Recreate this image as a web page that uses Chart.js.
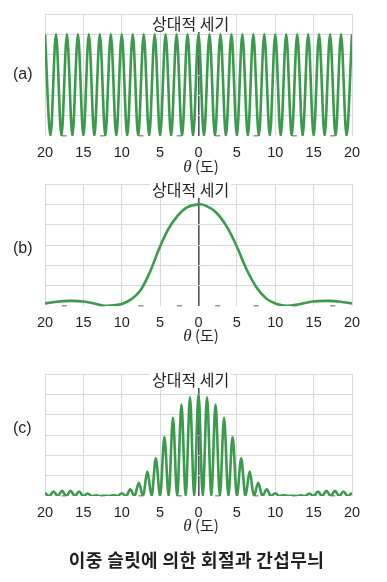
<!DOCTYPE html>
<html>
<head>
<meta charset="utf-8">
<script src="https://cdn.jsdelivr.net/npm/chart.js@4/dist/chart.umd.min.js"></script>
<style>
  body { margin: 0; background: #fff; width: 387px; height: 582px; position: relative; overflow: hidden;
         font-family: "Noto Sans CJK KR", sans-serif; color: #231f20; }
  canvas { position: absolute; left: 0; }
  .tag { position: absolute; left: 13px; font: 16px/18px "Liberation Sans", sans-serif; }
  .head { position: absolute; left: 150px; background: #fff; font-size: 16px; line-height: 17px; padding: 0 2px; }
  .xl { position: absolute; left: 0; width: 402px; text-align: center; font-size: 15px; line-height: 18px; }
  .xl i { font-family: "Liberation Serif", serif; font-size: 17px; }
  .cap { position: absolute; left: 0; width: 393px; top: 548px; text-align: center; font-size: 18px; letter-spacing: 0.4px;
         font-weight: bold; line-height: 22px; }
</style>
</head>
<body>
<canvas id="ca" width="387" height="160" style="top:0px"></canvas>
<canvas id="cb" width="387" height="160" style="top:170px"></canvas>
<canvas id="cc" width="387" height="160" style="top:360px"></canvas>

<div class="tag" style="top:65px">(a)</div>
<div class="tag" style="top:239px">(b)</div>
<div class="tag" style="top:419px">(c)</div>

<div class="head" style="top:15px">상대적 세기</div>
<div class="head" style="top:181px">상대적 세기</div>
<div class="head" style="top:371px">상대적 세기</div>

<div class="xl" style="top:157px"><i>θ</i> (도)</div>
<div class="xl" style="top:326px"><i>θ</i> (도)</div>
<div class="xl" style="top:516px"><i>θ</i> (도)</div>

<div class="cap">이중 슬릿에 의한 회절과 간섭무늬</div>

<script>
// x axis labels (absolute angle in degrees)
const tickLabels = ['20', '15', '10', '5', '0', '5', '10', '15', '20'];

// (a) two-slit interference: maxima / minima
const angleA = [-20, -19.29, -18.57, -17.86, -17.14, -16.43, -15.71, -15, -14.29, -13.57, -12.86, -12.14,
  -11.43, -10.71, -10, -9.29, -8.57, -7.86, -7.14, -6.43, -5.71, -5, -4.29, -3.57, -2.86, -2.14, -1.43, -0.71,
  0, 0.71, 1.43, 2.14, 2.86, 3.57, 4.29, 5, 5.71, 6.43, 7.14, 7.86, 8.57, 9.29, 10, 10.71, 11.43, 12.14,
  12.86, 13.57, 14.29, 15, 15.71, 16.43, 17.14, 17.86, 18.57, 19.29, 20];
const intensityA = [1, 0, 1, 0, 1, 0, 1, 0, 1, 0, 1, 0, 1, 0, 1, 0, 1, 0, 1, 0, 1, 0, 1, 0, 1, 0, 1, 0,
  1, 0, 1, 0, 1, 0, 1, 0, 1, 0, 1, 0, 1, 0, 1, 0, 1, 0, 1, 0, 1, 0, 1, 0, 1, 0, 1, 0, 1];

// (b) single-slit diffraction envelope
const angleB = [-20, -18.5, -16.7, -15, -13.5, -12.3, -11, -9.8, -8.8, -7.6, -6.3, -5.2, -3.9, -2.8, -1.5,
  0, 1.0, 2.3, 3.6, 4.9, 6.2, 7.5, 8.8, 10.1, 11.4, 12.7, 14.9, 17.0, 18.5, 20];
const intensityB = [0.025, 0.042, 0.05, 0.045, 0.022, 0.003, 0.006, 0.025, 0.065, 0.15, 0.34, 0.55, 0.76, 0.88, 0.97,
  1.0, 0.985, 0.92, 0.79, 0.6, 0.37, 0.19, 0.075, 0.022, 0.003, 0.012, 0.045, 0.05, 0.042, 0.025];

// (c) combined pattern: fringe peaks under the envelope
const angleC = [-20, -19.44, -18.89, -18.33, -17.78, -17.22, -16.67, -16.11, -15.56, -15, -14.44, -13.89,
  -13.33, -12.78, -12.22, -11.67, -11.11, -10.56, -10, -9.44, -8.89, -8.33, -7.78, -7.22, -6.67, -6.11,
  -5.56, -5, -4.44, -3.89, -3.33, -2.78, -2.22, -1.67, -1.11, -0.56, 0, 0.56, 1.11, 1.67, 2.22, 2.78,
  3.33, 3.89, 4.44, 5, 5.56, 6.11, 6.67, 7.22, 7.78, 8.33, 8.89, 9.44, 10, 10.56, 11.11, 11.67, 12.22,
  12.78, 13.33, 13.89, 14.44, 15, 15.56, 16.11, 16.67, 17.22, 17.78, 18.33, 18.89, 19.44, 20];
const intensityC = [0.03, 0, 0.045, 0, 0.05, 0, 0.05, 0, 0.045, 0, 0.025, 0,
  0.006, 0, 0.003, 0, 0.008, 0, 0.027, 0, 0.066, 0, 0.13, 0, 0.24, 0,
  0.37, 0, 0.58, 0, 0.77, 0, 0.9, 0, 0.97, 0, 1.0, 0, 0.97, 0, 0.9, 0,
  0.77, 0, 0.58, 0, 0.37, 0, 0.24, 0, 0.13, 0, 0.066, 0, 0.027, 0, 0.008, 0, 0.003,
  0, 0.006, 0, 0.025, 0, 0.045, 0, 0.05, 0, 0.05, 0, 0.045, 0, 0.03];

const green = '#3b9a4c';
const gridCol = '#d6dade';

function makeChart(id, xs, ys, smooth) {
  const pts = xs.map((x, i) => ({ x: x, y: ys[i] }));
  const ds = {
    data: pts,
    borderColor: green,
    borderWidth: 2.6,
    pointRadius: 0,
    fill: false
  };
  if (smooth) ds.tension = 0.4;
  else ds.cubicInterpolationMode = 'monotone';

  new Chart(document.getElementById(id), {
    type: 'line',
    data: { datasets: [ds] },
    options: {
      responsive: false,
      animation: false,
      events: [],
      layout: { padding: { left: 45, right: 35, top: 14, bottom: 2 } },
      plugins: { legend: { display: false }, tooltip: { enabled: false } },
      scales: {
        x: {
          type: 'linear', min: -20, max: 20,
          afterFit: s => { s.height = 22; },
          ticks: {
            stepSize: 5, padding: 8, color: '#231f20',
            font: { family: 'Liberation Sans', size: 14.5 },
            maxRotation: 0,
            callback: (v, i) => tickLabels[i]
          },
          grid: {
            drawTicks: false,
            color: c => (c.tick && c.tick.value === 0) ? '#4b5660' : gridCol,
            lineWidth: c => (c.tick && c.tick.value === 0) ? 1.6 : 1
          },
          border: { display: false }
        },
        y: {
          min: 0, max: 1.2,
          afterFit: s => { s.width = 0; },
          ticks: { stepSize: 0.2, display: false },
          grid: {
            drawTicks: false,
            color: c => (c.tick && c.tick.value === 0) ? '#8f9499' : gridCol,
            lineWidth: c => (c.tick && c.tick.value === 0) ? 1.5 : 1
          },
          // only the baseline is dashed
          border: {
            display: false,
            dash: c => (c.tick && c.tick.value === 0) ? [5, 33.375] : [],
            dashOffset: c => (c.tick && c.tick.value === 0) ? 21.7 : 0
          }
        }
      }
    }
  });
}

makeChart('ca', angleA, intensityA, false);
makeChart('cb', angleB, intensityB, true);
makeChart('cc', angleC, intensityC, false);
</script>
</body>
</html>
